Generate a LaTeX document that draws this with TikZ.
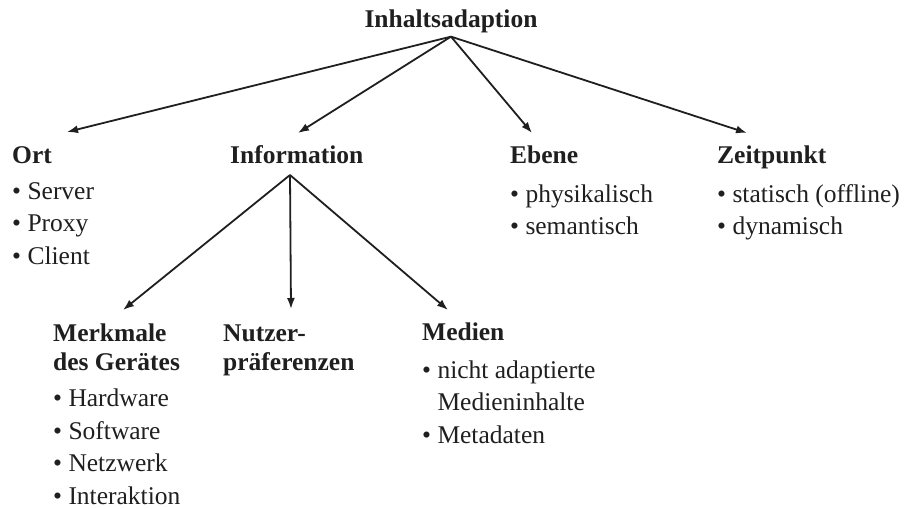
\documentclass[tikz,border=0pt]{standalone}
\usepackage{fontspec}
\setmainfont{Liberation Serif}
\usetikzlibrary{arrows.meta}
\tikzset{>={Latex[length=11pt,width=8pt]}}
\tikzset{
  head/.style  = {font=\fontsize{25.5}{29}\selectfont\bfseries, inner sep=3pt, align=left, anchor=base west},
  items/.style = {font=\fontsize{25.5}{32.5}\selectfont, inner sep=3pt, align=left, anchor=base west},
  branch/.style = {->, line width=1.8pt}
}

\begin{document}
\begin{tikzpicture}[x=1pt,y=-1pt,color=black!88]
  \useasboundingbox (0,0) rectangle (909,508);
  % root
  \node[head,anchor=base] (root) at (451,28) {Inhaltsadaption};
  % first level (multi-line nodes sit on their last baseline)
  \node[head] (ort)   at (9,163)   {Ort};
  \node[head] (info)  at (227,163) {Information};
  \node[head] (ebene) at (507,163) {Ebene};
  \node[head] (zeit)  at (714,163) {Zeitpunkt};
  \node[items] (ortList)   at (9,264)     {• Server\\• Proxy\\• Client};
  \node[items] (ebeneList) at (507,234.5) {• physikalisch\\• semantisch};
  \node[items] (zeitList)  at (714,234.5) {• statisch (offline)\\• dynamisch};
  % second level
  \node[head] (geraet) at (50,370)  {Merkmale\\des Gerätes};
  \node[head] (nutzer) at (220,370) {Nutzer-\\präferenzen};
  \node[head] (medien) at (419,340) {Medien};
  \node[items] (geraetList) at (50,504)  {• Hardware\\• Software\\• Netzwerk\\• Interaktion};
  \node[items] (medienList) at (419,443) {• nicht adaptierte\\\phantom{• }Medieninhalte\\• Metadaten};
  % arrow ends
  \coordinate (ortTip)    at (67,132);
  \coordinate (infoTip)   at (298,133);
  \coordinate (ebeneTip)  at (532,133);
  \coordinate (zeitTip)   at (747,133);
  \coordinate (infoFork)  at (290,175);
  \coordinate (geraetTip) at (123,310);
  \coordinate (nutzerTip) at (291,309);
  \coordinate (medienTip) at (448,310);
  % arrows
  \foreach \t in {ortTip,infoTip,ebeneTip,zeitTip} { \draw[branch] (root.south) -- (\t); };
  \foreach \t in {geraetTip,nutzerTip,medienTip} { \draw[branch] (infoFork) -- (\t); };
\end{tikzpicture}
\end{document}
